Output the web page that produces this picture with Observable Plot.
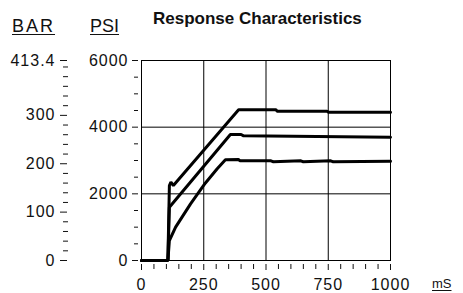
<!DOCTYPE html>
<html>
<head>
<meta charset="utf-8">
<script src="https://cdn.jsdelivr.net/npm/d3@7"></script>
<script src="https://cdn.jsdelivr.net/npm/@observablehq/plot@0.6"></script>
<style>
  body { margin: 0; background: #fff; }
  #wrap { position: relative; width: 463px; height: 293px; overflow: hidden; background: #fff; }
  .lab { position: absolute; font-family: "Liberation Sans", Arial, sans-serif; color: #111; line-height: 1; white-space: nowrap; }
  .u { text-decoration: underline; text-underline-offset: 2px; }
  svg text { letter-spacing: 1px; }
</style>
</head>
<body>
<div id="wrap"></div>
<script>
// ---- data (time in mS, pressure in PSI) ----
const topTime   = [0, 106, 112, 118, 128, 390, 540, 545, 745, 750, 1000];
const topPsi    = [0, 0, 2250, 2350, 2250, 4520, 4520, 4480, 4480, 4450, 4450];
const midTime   = [0, 106, 112, 357, 400, 410, 1000];
const midPsi    = [0, 0, 1600, 3780, 3780, 3740, 3700];
const lowTime   = [0, 106, 112, 137, 197, 256, 304, 337, 390, 395, 520, 530, 640, 650, 760, 770, 1000];
const lowPsi    = [0, 0, 600, 1000, 1700, 2320, 2750, 3020, 3030, 2990, 2990, 2960, 2990, 2960, 2990, 2960, 2980];

const xMajor = [0, 250, 500, 750, 1000];
const xMinor = [50, 100, 150, 200, 300, 350, 400, 450, 550, 600, 650, 700, 800, 850, 900, 950];
const psiMajor = [0, 2000, 4000, 6000];
const psiMinor = [500, 1000, 1500, 2500, 3000, 3500, 4500, 5000, 5500];
const barMajor = [0, 100, 200, 300, 413.4];
const barMinor = [20, 40, 60, 80, 120, 140, 160, 180, 220, 240, 260, 280, 320, 340, 360, 380, 400];
const PSI_PER_BAR = 6000 / 413.4;

const rows = [];
topTime.forEach((t, i) => rows.push({series: "A", t, p: topPsi[i]}));
midTime.forEach((t, i) => rows.push({series: "B", t, p: midPsi[i]}));
lowTime.forEach((t, i) => rows.push({series: "C", t, p: lowPsi[i]}));

const chart = Plot.plot({
  width: 463,
  height: 293,
  marginLeft: 141,
  marginRight: 73,
  marginTop: 60,
  marginBottom: 33,
  style: {fontFamily: "'Liberation Sans', Arial, sans-serif", fontSize: "16px", color: "#111", background: "#fff"},
  x: {domain: [0, 1000]},
  y: {domain: [0, 6000]},
  marks: [
    Plot.gridX([250, 500, 750], {stroke: "black", strokeOpacity: 1}),
    Plot.gridY([2000, 4000], {stroke: "black", strokeOpacity: 1}),
    Plot.frame({stroke: "black"}),
    // PSI axis
    Plot.axisY(psiMajor, {anchor: "left", tickSize: 6, tickPadding: 4, dx: -3, label: null, tickFormat: d => String(d)}),
    Plot.axisY(psiMinor, {anchor: "left", tickSize: 4, dx: -3, label: null, tickFormat: () => ""}),
    // BAR axis
    Plot.axisY(barMajor.map(b => b * PSI_PER_BAR), {anchor: "left", tickSize: 7, tickPadding: 5, dx: -74, label: null,
      tickFormat: d => String(Math.round(d / PSI_PER_BAR * 10) / 10)}),
    Plot.axisY(barMinor.map(b => b * PSI_PER_BAR), {anchor: "left", tickSize: 5, dx: -73, label: null, tickFormat: () => ""}),
    // time axis
    Plot.axisX(xMajor, {anchor: "bottom", tickSize: 6, tickPadding: 8, dy: 4, label: null, tickFormat: d => String(d)}),
    Plot.axisX(xMinor, {anchor: "bottom", tickSize: 5, dy: 4, label: null, tickFormat: () => ""}),
    Plot.line(rows, {x: "t", y: "p", z: "series", stroke: "black", strokeWidth: 3, strokeLinejoin: "miter", curve: "linear"})
  ]
});

const wrap = document.getElementById("wrap");
wrap.appendChild(chart);

function label(text, css, cls) {
  const d = document.createElement("div");
  d.className = "lab " + (cls || "");
  d.textContent = text;
  Object.assign(d.style, css);
  wrap.appendChild(d);
}
label("BAR", {left: "12px", top: "17px", fontSize: "18px", letterSpacing: "2px"}, "u");
label("PSI", {left: "90px", top: "17px", fontSize: "18px"}, "u");
label("Response Characteristics", {left: "153px", top: "10px", fontSize: "17px", fontWeight: "bold"});
label("mS", {left: "432px", top: "277px", fontSize: "13px"}, "u");
</script>
</body>
</html>
